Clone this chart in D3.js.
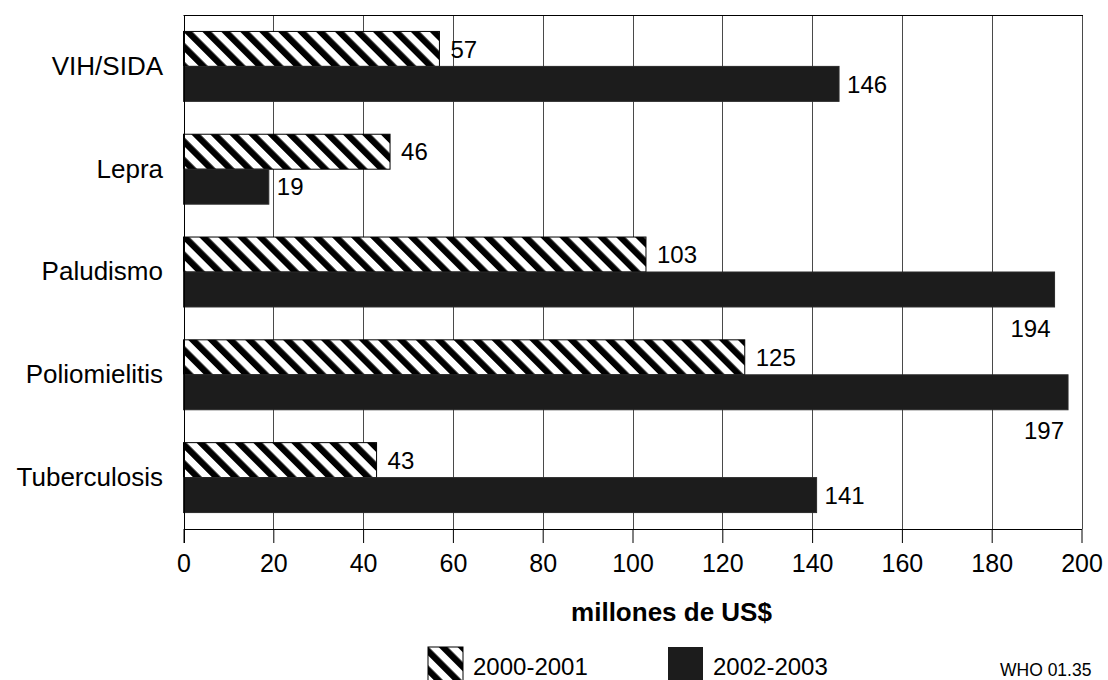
<!DOCTYPE html>
<html>
<head>
<meta charset="utf-8">
<script src="https://cdn.jsdelivr.net/npm/d3@7"></script>
<style>
  html, body { margin: 0; padding: 0; background: #fff; }
  svg { display: block; font-family: "Liberation Sans", Arial, sans-serif; }
</style>
</head>
<body>
<svg id="chart" width="1108" height="680"></svg>
<script>
const categories = ["VIH/SIDA", "Lepra", "Paludismo", "Poliomielitis", "Tuberculosis"];
const seriesNames = ["2000-2001", "2002-2003"];
const values2000 = [57, 46, 103, 125, 43];
const values2002 = [146, 19, 194, 197, 141];
const xTicks = [0, 20, 40, 60, 80, 100, 120, 140, 160, 180, 200];
const axisTitle = "millones de US$";
const sourceNote = "WHO 01.35";

(function () {
const svg = d3.select("#chart");
const pLeft = 183.5, pRight = 1081.5, pTop = 15, pBottom = 529;

const x = d3.scaleLinear().domain([0, 200]).range([pLeft, pRight]);
const y = d3.scaleBand().domain(categories).range([pTop, pBottom]).paddingInner(0).paddingOuter(0);
const ySub = d3.scaleBand().domain(seriesNames).range([0, y.bandwidth()]).paddingInner(0).paddingOuter(0.47);

// pattern
const defs = svg.append("defs");
const pat = defs.append("pattern")
  .attr("id", "hatch")
  .attr("patternUnits", "userSpaceOnUse")
  .attr("width", 13.4).attr("height", 13.4)
  .attr("patternTransform", "rotate(-45)");
pat.append("rect").attr("width", 13.4).attr("height", 13.4).attr("fill", "#fff");
pat.append("rect").attr("x", 0).attr("width", 6.4).attr("height", 13.4).attr("fill", "#000");

const fills = { "2000-2001": "url(#hatch)", "2002-2003": "#1c1c1c" };

// gridlines
svg.append("g").selectAll("line")
  .data(xTicks.filter(t => t > 0))
  .join("line")
  .attr("x1", d => Math.round(x(d)) + 0.5).attr("x2", d => Math.round(x(d)) + 0.5)
  .attr("y1", pTop).attr("y2", pBottom)
  .attr("stroke", "#4a4a4a").attr("stroke-width", 1);

// top frame
svg.append("line")
  .attr("x1", x(0)).attr("x2", Math.round(x(200)) + 1)
  .attr("y1", pTop + 0.5).attr("y2", pTop + 0.5)
  .attr("stroke", "#000").attr("stroke-width", 1);

// bars
const rows = categories.map((c, i) => ({ cat: c, vals: [
  { s: seriesNames[0], v: values2000[i] },
  { s: seriesNames[1], v: values2002[i] }
]}));

const g = svg.append("g");
rows.forEach(r => {
  r.vals.forEach(d => {
    const y0 = y(r.cat) + ySub(d.s);
    const h = ySub.bandwidth();
    g.append("rect")
      .attr("x", x(0)).attr("y", y0)
      .attr("width", x(d.v) - x(0)).attr("height", h)
      .attr("fill", fills[d.s])
      .attr("stroke", d.s === seriesNames[0] ? "#000" : "#2a2a2a")
      .attr("stroke-width", 1);
    const label = String(d.v);
    const fs = 24;
    const approxW = label.length * 0.556 * fs;
    const off = d.s === seriesNames[0] ? 11 : 8;
    let lx = x(d.v) + off, ly = y0 + h / 2, anchor = "start";
    if (lx + approxW > pRight) {
      lx = x(d.v) - 4; ly = y0 + h + 21; anchor = "end";
    }
    g.append("text")
      .attr("x", lx).attr("y", ly).attr("dy", "0.36em")
      .attr("text-anchor", anchor)
      .attr("font-size", fs).attr("fill", "#000")
      .text(label);
  });
});

// left axis line
svg.append("line")
  .attr("x1", Math.round(x(0)) + 0.5).attr("x2", Math.round(x(0)) + 0.5)
  .attr("y1", pTop).attr("y2", pBottom + 14)
  .attr("stroke", "#000").attr("stroke-width", 1);

// bottom axis
const xAxis = d3.axisBottom(x).tickValues(xTicks).tickFormat(d3.format("d"))
  .tickSize(14).tickSizeOuter(0).tickPadding(11);
const ax = svg.append("g").attr("transform", `translate(0,${pBottom})`).call(xAxis);
ax.select(".domain").attr("stroke", "#000");
ax.selectAll(".tick line").attr("stroke", "#000");
ax.selectAll(".tick text").attr("font-size", 25).attr("fill", "#000")
  .attr("font-family", "'Liberation Sans', Arial, sans-serif");

// category labels
svg.append("g").selectAll("text")
  .data(categories).join("text")
  .attr("x", 163).attr("y", d => y(d) + y.bandwidth() / 2 - 1)
  .attr("dy", "0.36em")
  .attr("text-anchor", "end")
  .attr("font-size", 26).attr("fill", "#000")
  .text(d => d);

// axis title
svg.append("text")
  .attr("x", 671.5).attr("y", 621)
  .attr("text-anchor", "middle")
  .attr("font-size", 26).attr("font-weight", "bold").attr("fill", "#000")
  .text(axisTitle);

// legend
const legX = [428, 668];
seriesNames.forEach((s, i) => {
  svg.append("rect")
    .attr("x", legX[i]).attr("y", 647).attr("width", 35).attr("height", 35)
    .attr("fill", fills[s])
    .attr("stroke", i === 0 ? "#000" : "none");
  svg.append("text")
    .attr("x", legX[i] + 45).attr("y", 675)
    .attr("font-size", 24).attr("fill", "#000")
    .text(s);
});

// source note
svg.append("text")
  .attr("x", 1000).attr("y", 676)
  .attr("font-size", 17.5).attr("fill", "#000")
  .text(sourceNote);
})();
</script>
</body>
</html>
